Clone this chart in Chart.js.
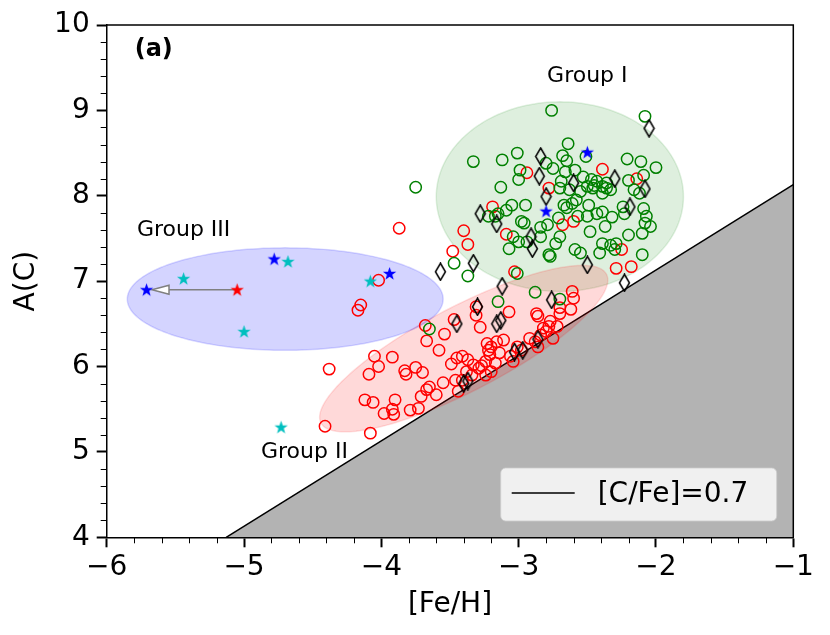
<!DOCTYPE html>
<html>
<head>
<meta charset="utf-8">
<script src="https://cdn.jsdelivr.net/npm/chart.js@4.4.1/dist/chart.umd.min.js"></script>
<style>
    html, body { margin: 0; padding: 0; background: #fff; }
</style>
</head>
<body>
<canvas id="carbonChart" width="830" height="635"></canvas>
<script>
// Red open circles
const redFeH = [-2.94, -2.78, -3.19, -3.40, -3.37, -3.48, -3.09, -2.68, -2.60, -2.39, -2.14, -2.25, -2.29, -2.18, -3.03,
    -3.87, -4.02, -4.15, -4.17, -2.61, -2.60, -2.62, -2.70, -2.70, -2.87, -2.86, -3.07, -3.31, -3.31, -3.28,
    -3.47, -3.68, -3.54, -3.67, -3.58, -4.05, -3.92, -4.02, -4.09, -4.38, -3.83, -3.82, -3.75, -3.70, -3.65,
    -3.67, -3.60, -3.55, -3.49, -3.45, -3.41, -3.37, -3.33, -3.29, -3.27, -3.38, -3.34, -3.41, -3.46, -3.44,
    -3.23, -3.20, -3.16, -3.11, -3.22, -3.21, -3.14, -3.17, -3.24, -3.06, -3.01, -2.98, -3.04, -2.92, -2.88,
    -2.84, -2.80, -2.78, -2.77, -2.82, -2.72, -2.75, -2.86, -4.12, -4.06, -3.98, -3.91, -3.90, -3.92, -3.79,
    -3.73, -3.71, -4.41, -4.08, -3.24, -3.20];
const redAC = [8.27, 8.09, 7.87, 7.59, 7.43, 7.35, 7.55, 7.66, 7.70, 8.31, 8.20, 7.37, 7.15, 7.17, 7.11,
    7.62, 7.01, 6.72, 6.66, 6.88, 6.80, 6.67, 6.69, 6.62, 6.62, 6.59, 6.64, 6.70, 6.60, 6.46,
    6.55, 6.48, 6.38, 6.30, 6.19, 6.12, 6.11, 6.00, 5.91, 5.97, 5.95, 5.91, 5.99, 5.93, 5.76,
    5.73, 5.67, 5.81, 6.03, 6.10, 6.12, 6.08, 6.02, 5.98, 6.01, 5.94, 5.90, 5.84, 5.84, 5.71,
    6.27, 6.23, 6.29, 6.31, 6.19, 6.14, 6.16, 6.04, 6.06, 6.12, 6.23, 6.19, 6.06, 6.33, 6.29,
    6.37, 6.41, 6.47, 6.53, 6.45, 6.47, 6.33, 6.23, 5.61, 5.58, 5.45, 5.44, 5.61, 5.50, 5.49,
    5.51, 5.65, 5.30, 5.22, 5.90, 5.94];

// Green open circles
const greenFeH = [-2.76, -2.08, -2.64, -3.33, -3.12, -3.01, -2.68, -2.65, -2.51, -2.21, -2.11, -2.00, -2.99, -3.00, -2.80,
    -2.75, -2.66, -2.59, -2.69, -2.53, -2.47, -2.43, -2.50, -2.39, -2.33, -2.39, -2.55, -2.63, -2.70, -3.13,
    -2.20, -2.09, -2.16, -2.12, -3.05, -2.95, -3.09, -3.15, -3.17, -3.22, -2.67, -2.65, -2.49, -2.43, -2.39,
    -2.57, -2.50, -2.32, -2.23, -2.24, -2.09, -2.07, -2.08, -2.04, -2.10, -2.98, -2.96, -2.84, -2.79, -2.71,
    -2.37, -2.48, -2.20, -3.04, -3.00, -2.94, -3.07, -2.84, -2.73, -2.70, -2.78, -2.77, -2.59, -2.55, -2.41,
    -2.39, -2.33, -2.29, -2.30, -2.10, -3.47, -3.37, -3.01, -2.46, -2.36, -2.58, -2.61, -3.75, -3.15, -2.88,
    -2.70, -3.65, -2.36, -2.45];
const greenAC = [9.00, 8.93, 8.61, 8.40, 8.42, 8.50, 8.47, 8.41, 8.46, 8.43, 8.40, 8.33, 8.30, 8.19, 8.38,
    8.32, 8.28, 8.30, 8.17, 8.22, 8.19, 8.17, 8.11, 8.11, 8.07, 8.03, 8.05, 8.07, 8.09, 8.10,
    8.18, 8.24, 8.07, 8.03, 7.89, 7.89, 7.83, 7.79, 7.76, 7.76, 7.89, 7.86, 7.89, 7.79, 7.81,
    7.76, 7.76, 7.75, 7.79, 7.87, 7.85, 7.76, 7.68, 7.64, 7.56, 7.70, 7.68, 7.63, 7.66, 7.74,
    7.64, 7.58, 7.54, 7.52, 7.46, 7.46, 7.38, 7.52, 7.44, 7.52, 7.31, 7.29, 7.37, 7.33, 7.33,
    7.44, 7.42, 7.44, 7.37, 7.31, 7.21, 7.06, 7.09, 8.09, 8.09, 7.95, 7.91, 8.10, 6.76, 6.87,
    6.79, 6.44, 8.15, 8.12];

// Black open thin diamonds
const diamondFeH = [-2.84, -2.85, -2.60, -2.30, -2.08, -2.05, -2.80, -2.19, -3.28, -3.16, -2.91, -2.90, -3.33, -3.57,
    -2.50, -2.23, -3.12, -3.30, -2.76, -3.45, -3.16, -3.13, -2.86, -2.97, -3.03, -3.40, -3.37];
const diamondAC = [8.46, 8.23, 8.15, 8.20, 8.08, 8.79, 7.99, 7.87, 7.79, 7.67, 7.52, 7.38, 7.21, 7.11,
    7.19, 6.98, 6.94, 6.70, 6.78, 6.50, 6.50, 6.54, 6.32, 6.19, 6.17, 5.80, 5.83];

// Stars
const blueStarFeH = [-5.71, -4.78, -3.94, -2.50, -2.80];
const blueStarAC = [6.90, 7.26, 7.09, 8.51, 7.82];
const cyanStarFeH = [-5.44, -4.68, -4.08, -5.00, -4.73];
const cyanStarAC = [7.03, 7.23, 7.00, 6.41, 5.29];
const redStarFeH = [-5.05];
const redStarAC = [6.90];

// Arrow from red star towards blue star
const arrowFeH = [-5.05, -5.67];
const arrowAC = [6.90, 6.90];

// [C/Fe]=0.7 line
const cfeLineFeH = [-5.13, -1.00];
const cfeLineAC = [4.00, 8.13];

// Group ellipses (centre and two semi-axis vectors, in data units)
const groupNames = ['Group I', 'Group II', 'Group III'];
const ellipseFeH = [-2.70, -3.40, -4.70];
const ellipseAC = [7.99, 6.21, 6.79];
const ellipseAxisU = [[0.90, 0.00], [1.04, 0.87], [1.15, 0.00]];
const ellipseAxisV = [[0.00, 1.11], [0.14, -0.44], [0.00, 0.60]];
const groupLabelFeH = [-2.50, -4.56, -5.44];
const groupLabelAC = [9.40, 5.00, 7.59];

// Ticks
const xTicks = [-6, -5, -4, -3, -2, -1];
const yTicks = [4, 5, 6, 7, 8, 9, 10];

const FONT = "'DejaVu Sans', sans-serif";
const ellipseFill = ['rgba(0,128,0,0.13)', 'rgba(255,0,0,0.15)', 'rgba(0,0,255,0.17)'];
const ellipseEdge = ['rgba(0,128,0,0.12)', 'rgba(255,0,0,0.12)', 'rgba(0,0,255,0.15)'];

function toPoints(xs, ys) {
    return xs.map((x, i) => ({ x: x, y: ys[i] }));
}

// Marker images
function makeDiamond() {
    const c = document.createElement('canvas');
    c.width = 13; c.height = 19;
    const g = c.getContext('2d');
    g.beginPath();
    g.moveTo(6.5, 1); g.lineTo(11.5, 9.5); g.lineTo(6.5, 18); g.lineTo(1.5, 9.5);
    g.closePath();
    g.lineWidth = 1.5;
    g.strokeStyle = '#000';
    g.stroke();
    return c;
}
function makeStar(color) {
    const c = document.createElement('canvas');
    c.width = 15; c.height = 15;
    const g = c.getContext('2d');
    g.beginPath();
    for (let k = 0; k < 10; k++) {
        const r = k % 2 === 0 ? 7 : 2.8;
        const a = -Math.PI / 2 + k * Math.PI / 5;
        const px = 7.5 + r * Math.cos(a), py = 8 + r * Math.sin(a);
        if (k === 0) g.moveTo(px, py); else g.lineTo(px, py);
    }
    g.closePath();
    g.fillStyle = color;
    g.fill();
    return c;
}

const extras = {
    id: 'extras',
    afterDatasetDraw(chart, args) {
        if (args.index !== 0) return;
        const ctx = chart.ctx, xs = chart.scales.x, ys = chart.scales.y, area = chart.chartArea;
        ctx.save();
        ctx.beginPath();
        ctx.rect(area.left, area.top, area.right - area.left, area.bottom - area.top);
        ctx.clip();
        // ellipses
        for (let i = 0; i < ellipseFeH.length; i++) {
            ctx.beginPath();
            for (let k = 0; k <= 180; k++) {
                const t = k / 180 * 2 * Math.PI;
                const fx = ellipseFeH[i] + ellipseAxisU[i][0] * Math.cos(t) + ellipseAxisV[i][0] * Math.sin(t);
                const fy = ellipseAC[i] + ellipseAxisU[i][1] * Math.cos(t) + ellipseAxisV[i][1] * Math.sin(t);
                const px = xs.getPixelForValue(fx), py = ys.getPixelForValue(fy);
                if (k === 0) ctx.moveTo(px, py); else ctx.lineTo(px, py);
            }
            ctx.closePath();
            ctx.fillStyle = ellipseFill[i];
            ctx.fill();
            ctx.lineWidth = 1.5;
            ctx.strokeStyle = ellipseEdge[i];
            ctx.stroke();
        }
        // arrow
        const x0 = xs.getPixelForValue(arrowFeH[0]), y0 = ys.getPixelForValue(arrowAC[0]);
        const x1 = xs.getPixelForValue(arrowFeH[1]), y1 = ys.getPixelForValue(arrowAC[1]);
        const headLen = 17, headHalf = 4.5;
        ctx.strokeStyle = '#808080';
        ctx.lineWidth = 1.5;
        ctx.beginPath();
        ctx.moveTo(x0, y0);
        ctx.lineTo(x1 + headLen, y1);
        ctx.stroke();
        ctx.beginPath();
        ctx.moveTo(x1, y1);
        ctx.lineTo(x1 + headLen, y1 - headHalf);
        ctx.lineTo(x1 + headLen, y1 + headHalf);
        ctx.closePath();
        ctx.fillStyle = '#fff';
        ctx.fill();
        ctx.stroke();
        ctx.restore();
    },
    afterDraw(chart) {
        const ctx = chart.ctx, xs = chart.scales.x, ys = chart.scales.y, area = chart.chartArea;
        ctx.save();
        // minor ticks
        ctx.strokeStyle = '#000';
        ctx.lineWidth = 1;
        for (let v = -6; v <= -1.001; v += 0.2) {
            if (Math.abs(v - Math.round(v)) < 0.01) continue;
            const px = Math.round(xs.getPixelForValue(v)) + 0.5;
            ctx.beginPath(); ctx.moveTo(px, area.bottom); ctx.lineTo(px, area.bottom + 6); ctx.stroke();
        }
        for (let v = 4; v <= 10.001; v += 0.2) {
            if (Math.abs(v - Math.round(v)) < 0.01) continue;
            const py = Math.round(ys.getPixelForValue(v)) + 0.5;
            ctx.beginPath(); ctx.moveTo(area.left, py); ctx.lineTo(area.left - 6, py); ctx.stroke();
        }
        // top and right spines
        ctx.lineWidth = 1.5;
        ctx.beginPath();
        ctx.moveTo(area.left, area.top); ctx.lineTo(area.right, area.top); ctx.lineTo(area.right, area.bottom);
        ctx.stroke();
        // group labels
        ctx.fillStyle = '#000';
        ctx.font = '22px ' + FONT;
        ctx.textAlign = 'center';
        ctx.textBaseline = 'middle';
        for (let i = 0; i < groupNames.length; i++) {
            ctx.fillText(groupNames[i], xs.getPixelForValue(groupLabelFeH[i]), ys.getPixelForValue(groupLabelAC[i]));
        }
        // panel tag
        ctx.font = 'bold 24px ' + FONT;
        ctx.textAlign = 'left';
        ctx.fillText('(a)', area.left + 28, area.top + 25);
        // legend
        const lx = area.right - 16.6 - 276, ly = area.bottom - 16.3 - 53;
        ctx.beginPath();
        ctx.roundRect(lx, ly, 276, 53, 5);
        ctx.fillStyle = 'rgba(255,255,255,0.8)';
        ctx.fill();
        ctx.strokeStyle = 'rgba(204,204,204,0.8)';
        ctx.lineWidth = 1;
        ctx.stroke();
        ctx.strokeStyle = '#000';
        ctx.lineWidth = 1.5;
        ctx.beginPath();
        ctx.moveTo(lx + 11, ly + 25); ctx.lineTo(lx + 74, ly + 25);
        ctx.stroke();
        ctx.fillStyle = '#000';
        ctx.font = '28px ' + FONT;
        ctx.textAlign = 'left';
        ctx.textBaseline = 'middle';
        ctx.fillText('[C/Fe]=0.7', lx + 97, ly + 27);
        ctx.restore();
    }
};

const diamondImg = makeDiamond();

const ctx = document.getElementById('carbonChart').getContext('2d');
const carbonChart = new Chart(ctx, {
    type: 'scatter',
    data: {
        datasets: [
            {
                type: 'line',
                label: '[C/Fe]=0.7',
                data: toPoints(cfeLineFeH, cfeLineAC),
                borderColor: '#000',
                borderWidth: 1.5,
                backgroundColor: '#b3b3b3',
                fill: 'start',
                pointRadius: 0,
                order: 10
            },
            {
                data: toPoints(redFeH, redAC),
                pointStyle: 'circle',
                pointRadius: 5.7,
                pointHoverRadius: 5.7,
                borderColor: '#ff0000',
                backgroundColor: 'rgba(0,0,0,0)',
                borderWidth: 1.5,
                order: 5
            },
            {
                data: toPoints(greenFeH, greenAC),
                pointStyle: 'circle',
                pointRadius: 5.7,
                pointHoverRadius: 5.7,
                borderColor: '#008000',
                backgroundColor: 'rgba(0,0,0,0)',
                borderWidth: 1.5,
                order: 4
            },
            {
                data: toPoints(diamondFeH, diamondAC),
                pointStyle: diamondImg,
                pointRadius: 6,
                order: 3
            },
            {
                data: toPoints(cyanStarFeH, cyanStarAC),
                pointStyle: makeStar('#00bfbf'),
                pointRadius: 6,
                order: 2
            },
            {
                data: toPoints(redStarFeH, redStarAC),
                pointStyle: makeStar('#ff0000'),
                pointRadius: 6,
                order: 1
            },
            {
                data: toPoints(blueStarFeH, blueStarAC),
                pointStyle: makeStar('#0000ff'),
                pointRadius: 6,
                order: 0
            }
        ]
    },
    options: {
        responsive: false,
        animation: false,
        devicePixelRatio: 1,
        layout: { padding: { left: 0, top: 25, right: 36.7, bottom: 0 } },
        plugins: {
            legend: { display: false },
            tooltip: { enabled: false }
        },
        scales: {
            x: {
                type: 'linear',
                min: -6,
                max: -1,
                afterFit: (s) => { s.height = 97.7; },
                afterBuildTicks: (s) => { s.ticks = xTicks.map(v => ({ value: v })); },
                ticks: {
                    color: '#000',
                    font: { family: FONT, size: 28 },
                    padding: 4,
                    maxRotation: 0,
                    callback: (v) => (v < 0 ? '\u2212' + Math.abs(v) : String(v))
                },
                grid: { drawOnChartArea: false, tickLength: 10, tickWidth: 2, tickColor: '#000' },
                border: { color: '#000', width: 1.5 },
                title: { display: true, text: '[Fe/H]', color: '#000', font: { family: FONT, size: 28 }, padding: { top: 0, bottom: 13 } }
            },
            y: {
                type: 'linear',
                min: 4,
                max: 10,
                afterFit: (s) => { s.width = 106.7; },
                afterBuildTicks: (s) => { s.ticks = yTicks.map(v => ({ value: v })); },
                ticks: {
                    color: '#000',
                    font: { family: FONT, size: 28 },
                    padding: 7
                },
                grid: { drawOnChartArea: false, tickLength: 10, tickWidth: 2, tickColor: '#000' },
                border: { color: '#000', width: 1.5 },
                title: { display: true, text: 'A(C)', color: '#000', font: { family: FONT, size: 28 }, padding: { top: 10, bottom: 0 } }
            }
        }
    },
    plugins: [extras]
});
</script>
</body>
</html>
